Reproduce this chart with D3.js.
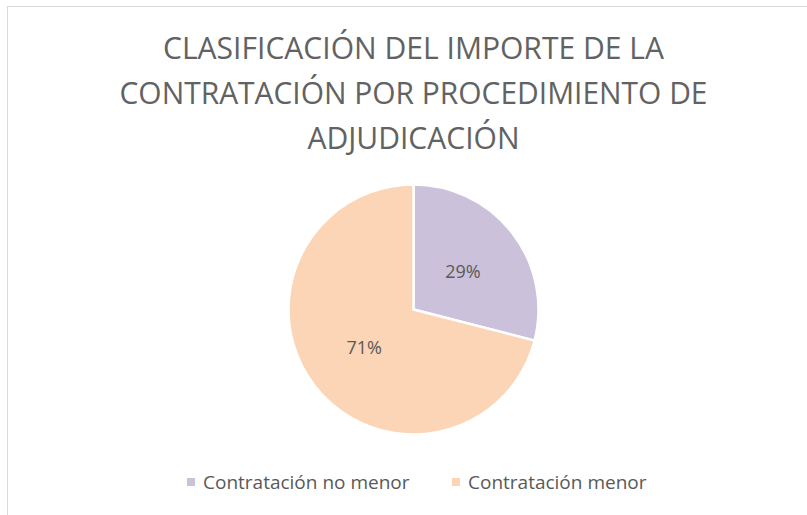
<!DOCTYPE html>
<html>
<head>
<meta charset="utf-8">
<script src="https://cdn.jsdelivr.net/npm/d3@7"></script>
<style>
  body { margin: 0; background: #fff; }
  svg { display: block; font-family: "Liberation Sans Narrow", "Open Sans", sans-serif; }
</style>
</head>
<body>
<div id="chart"></div>
<script>
// Chart data
const titleLines = ["CLASIFICACIÓN DEL IMPORTE DE LA", "CONTRATACIÓN POR PROCEDIMIENTO DE", "ADJUDICACIÓN"];
const categories = ["Contratación no menor", "Contratación menor"];
const values = [29, 71];
const colors = ["#ccc1da", "#fbd5b5"];

const width = 807, height = 515;
const cx = 413.5, cy = 309.5, radius = 125;

const svg = d3.select("#chart")
    .append("svg")
    .attr("width", width)
    .attr("height", height);

// chart area border (runs off right/bottom edge)
svg.append("rect")
    .attr("x", 7.5).attr("y", 6.5)
    .attr("width", width + 20).attr("height", height + 20)
    .attr("fill", "#fff")
    .attr("stroke", "#d9d9d9");

// Title
const title = svg.append("text")
    .attr("text-anchor", "middle")
    .attr("fill", "#626262")
    .style("font-size", "31px");
const titleWidths = [501, 588, 212];
titleLines.forEach((t, i) => {
    title.append("tspan")
        .attr("x", 413.5)
        .attr("y", 59 + i * 45)
        .attr("textLength", titleWidths[i])
        .attr("lengthAdjust", "spacingAndGlyphs")
        .text(t);
});

// Pie
const pie = d3.pie().sort(null).value(d => d);
const arc = d3.arc().innerRadius(0).outerRadius(radius);
const labelArc = d3.arc().innerRadius(radius * 0.5).outerRadius(radius * 0.5);

const g = svg.append("g").attr("transform", `translate(${cx},${cy})`);
const arcs = pie(values);

g.selectAll("path")
    .data(arcs)
    .enter()
    .append("path")
    .attr("d", arc)
    .attr("fill", (d, i) => colors[i])
    .attr("stroke", "#fff")
    .attr("stroke-width", 2.5);

g.selectAll("text.lbl")
    .data(arcs)
    .enter()
    .append("text")
    .attr("class", "lbl")
    .attr("transform", d => `translate(${labelArc.centroid(d)})`)
    .attr("text-anchor", "middle")
    .attr("dy", "0.35em")
    .attr("fill", "#595959")
    .style("font-size", "18px")
    .text(d => d.data + "%");

// Legend
const legendX = [187, 452];
const legend = svg.append("g");
categories.forEach((c, i) => {
    legend.append("rect")
        .attr("x", legendX[i]).attr("y", 478)
        .attr("width", 8).attr("height", 8)
        .attr("fill", colors[i]);
    legend.append("text")
        .attr("x", legendX[i] + 16)
        .attr("y", 489)
        .attr("fill", "#595959")
        .style("font-size", "19px")
        .text(c);
});
</script>
</body>
</html>
